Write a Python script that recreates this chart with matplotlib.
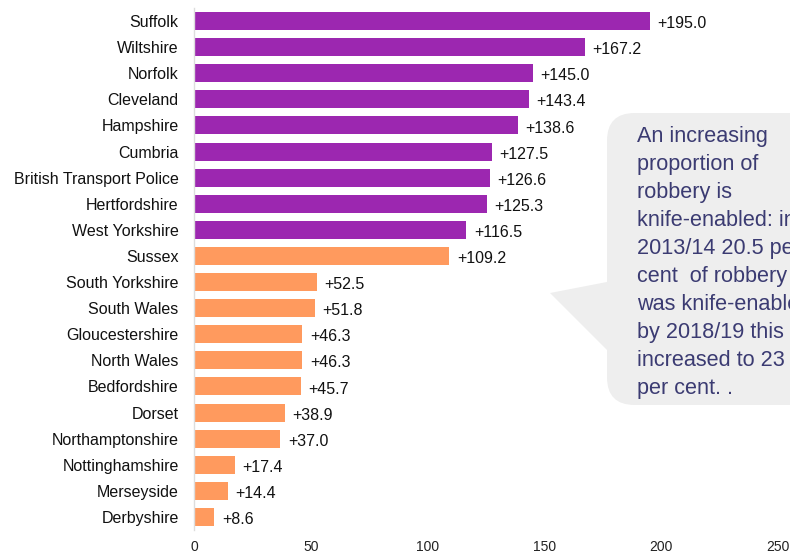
import matplotlib
matplotlib.use("Agg")
import matplotlib.pyplot as plt
from matplotlib.patches import FancyBboxPatch, Polygon

forces = ["Suffolk", "Wiltshire", "Norfolk", "Cleveland", "Hampshire", "Cumbria",
          "British Transport Police", "Hertfordshire", "West Yorkshire", "Sussex",
          "South Yorkshire", "South Wales", "Gloucestershire", "North Wales",
          "Bedfordshire", "Dorset", "Northamptonshire", "Nottinghamshire",
          "Merseyside", "Derbyshire"]
values = [195.0, 167.2, 145.0, 143.4, 138.6, 127.5, 126.6, 125.3, 116.5, 109.2,
          52.5, 51.8, 46.3, 46.3, 45.7, 38.9, 37.0, 17.4, 14.4, 8.6]
groups = ["top"] * 9 + ["other"] * 11
xticks = [0, 50, 100, 150, 200, 250]
callout = ("An increasing\nproportion of\nrobbery is\nknife-enabled: in\n"
           "2013/14 20.5 per\ncent  of robbery\nwas knife-enabled,\n"
           "by 2018/19 this\nincreased to 23\nper cent. .")

colors = {"top": "#9C27B0", "other": "#FF9A5E"}
plt.rcParams['font.family'] = ['Liberation Sans', 'DejaVu Sans']

W, H = 790, 553
fig = plt.figure(figsize=(W / 100, H / 100), dpi=100)
ax = fig.add_axes([194 / W, 1 - 530 / H, (778 - 194) / W, (530 - 8) / H])

y = list(range(len(forces)))
ax.barh(y, values, height=0.69, color=[colors[g] for g in groups], zorder=2)
for yi, v in zip(y, values):
    ax.text(v + 3.3, yi + 0.1, f"+{v:.1f}", va="center", ha="left", fontsize=11.5, color="#111111")

ax.set_ylim(len(forces) - 0.5, -0.5)
ax.set_xlim(0, 250)
ax.set_yticks(y)
ax.set_yticklabels(forces, fontsize=11.5, color="#111111")
ax.set_xticks(xticks)
ax.set_xticklabels([str(t) for t in xticks], fontsize=10, color="#222222")
ax.tick_params(axis="both", length=0)
ax.tick_params(axis="x", pad=7.5)
ax.tick_params(axis="y", pad=11)
for s in ["top", "right", "bottom"]:
    ax.spines[s].set_visible(False)
ax.spines["left"].set_color("#DDDDDD")
ax.spines["left"].set_linewidth(1)


def fx(px):
    return px / W


def fy(py):
    return 1 - py / H


bubble = FancyBboxPatch((fx(607), fy(405)), fx(900) - fx(607), fy(113) - fy(405),
                        boxstyle="round,pad=0,rounding_size=0.035",
                        transform=fig.transFigure, facecolor="#EEEEEE",
                        edgecolor="none", zorder=3, mutation_aspect=W / H)
fig.patches.append(bubble)
pointer = Polygon([(fx(550), fy(293)), (fx(612), fy(281)), (fx(612), fy(355))],
                  closed=True, transform=fig.transFigure, facecolor="#EEEEEE",
                  edgecolor="none", zorder=3)
fig.patches.append(pointer)
fig.text(fx(637), fy(126), callout, transform=fig.transFigure, fontsize=15.6,
         color="#3B3B72", va="top", ha="left", linespacing=1.44, zorder=4)

fig.savefig("out.png", dpi=100)
